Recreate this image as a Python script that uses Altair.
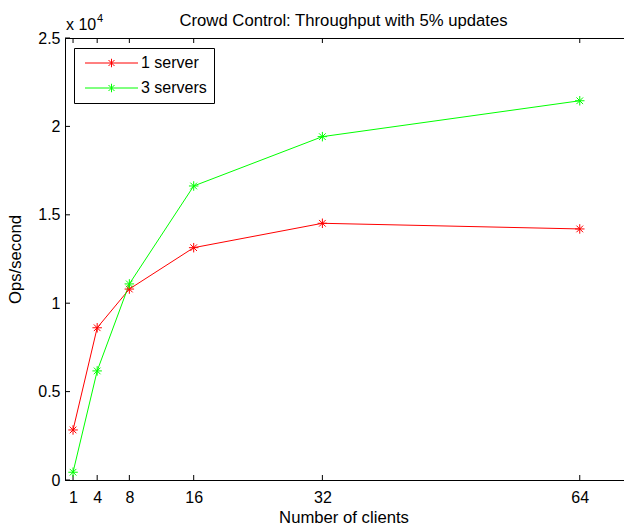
import altair as alt
import pandas as pd

clients = [1, 4, 8, 16, 32, 64]
one_server = [2830, 8610, 10800, 13140, 14520, 14200]
three_servers = [440, 6170, 11090, 16630, 19420, 21450]
series_names = ["1 server", "3 servers"]
series_colors = ["#FF0000", "#00FF00"]
x_ticks = [1, 4, 8, 16, 32, 64]
y_ticks = [0, 5000, 10000, 15000, 20000, 25000]
title_text = ["Crowd Control: Throughput with 5% updates"]

W, H = 559, 442
FONT = "Liberation Sans"
FS = 16
FT = 16.7

rows = []
for name, vals in zip(series_names, [one_server, three_servers]):
    for c, v in zip(clients, vals):
        rows.append({"clients": c, "ops": v, "series": name})
df = pd.DataFrame(rows)

xscale = alt.Scale(domain=[0, 69.5], nice=False, zero=False)
yscale = alt.Scale(domain=[0, 25000], nice=False)

star = "M-1,0H1M0,-1V1M-0.7,-0.7L0.7,0.7M-0.7,0.7L0.7,-0.7"
# legend symbol: size 100 -> 5px per unit, shifted right inside the legend box
legend_sym = "M-0.8,0H9.8M4.5,-0.85V0.85M3.9,-0.6L5.1,0.6M3.9,0.6L5.1,-0.6"

lines = alt.Chart(df).mark_line(
    strokeWidth=1,
    point=alt.OverlayMarkDef(shape=star, filled=False, size=90, strokeWidth=1),
).encode(
    x=alt.X("clients:Q", scale=xscale, axis=alt.Axis(
        values=x_ticks, title="Number of clients", ticks=False, grid=False,
        labelFontSize=FS, labelFont=FONT, labelPadding=9, labelColor="black",
        domainColor="black", titleFont=FONT, titleFontSize=FT, titleFontWeight="normal",
        titleColor="black", titleX=W / 2 - 1, titleY=37, titleBaseline="middle")),
    y=alt.Y("ops:Q", scale=yscale, axis=alt.Axis(
        values=y_ticks, title="Ops/second", ticks=False, grid=False,
        labelExpr="datum.value / 10000", labelFontSize=FS, labelFont=FONT,
        labelPadding=5, labelColor="black", domainColor="black",
        titleFont=FONT, titleFontSize=FT, titleFontWeight="normal", titleColor="black",
        titleX=-50, titleY=H / 2, titleAngle=-90, titleBaseline="middle", titleAlign="center")),
    color=alt.Color("series:N", scale=alt.Scale(domain=series_names, range=series_colors),
                    legend=alt.Legend(
                        title=None, orient="none", legendX=9, legendY=10,
                        symbolType=legend_sym, symbolSize=100, symbolStrokeWidth=1,
                        symbolFillColor="transparent",
                        labelFont=FONT, labelFontSize=FS, labelColor="black",
                        labelOffset=44, rowPadding=9,
                        strokeColor="black", fillColor="white",
                        padding=7, cornerRadius=0)),
    order=alt.Order("series:N"),
)

xt = pd.DataFrame({"t": x_ticks})
yt = pd.DataFrame({"t": y_ticks})

bottom_ticks = alt.Chart(xt).mark_rule(color="black", strokeWidth=1).encode(
    x=alt.X("t:Q", scale=xscale), y=alt.value(H), y2=alt.value(H - 5))
top_ticks = alt.Chart(xt).mark_rule(color="black", strokeWidth=1).encode(
    x=alt.X("t:Q", scale=xscale), y=alt.value(0), y2=alt.value(5))
left_ticks = alt.Chart(yt).mark_rule(color="black", strokeWidth=1).encode(
    y=alt.Y("t:Q", scale=yscale), x=alt.value(0), x2=alt.value(5))

title = alt.Chart(pd.DataFrame({"s": title_text})).mark_text(
    font=FONT, fontSize=FT, align="center", baseline="alphabetic", color="black"
).encode(text="s:N", x=alt.value(W / 2 - 1), y=alt.value(-12))
mult = alt.Chart(pd.DataFrame({"s": ["x 10"]})).mark_text(
    font=FONT, fontSize=FS, align="left", baseline="alphabetic", color="black"
).encode(text="s:N", x=alt.value(1), y=alt.value(-8))
expo = alt.Chart(pd.DataFrame({"s": ["4"]})).mark_text(
    font=FONT, fontSize=11, align="left", baseline="alphabetic", color="black"
).encode(text="s:N", x=alt.value(32), y=alt.value(-16))

chart = alt.layer(bottom_ticks, top_ticks, left_ticks, lines, title, mult, expo).properties(
    width=W, height=H,
    autosize=alt.AutoSizeParams(type="none"),
    padding={"left": 65, "top": 38, "right": 0, "bottom": 47},
    background="white",
).configure_view(stroke="black", strokeWidth=1)

chart.save("out.html", embed_options={"renderer": "svg", "actions": False})
